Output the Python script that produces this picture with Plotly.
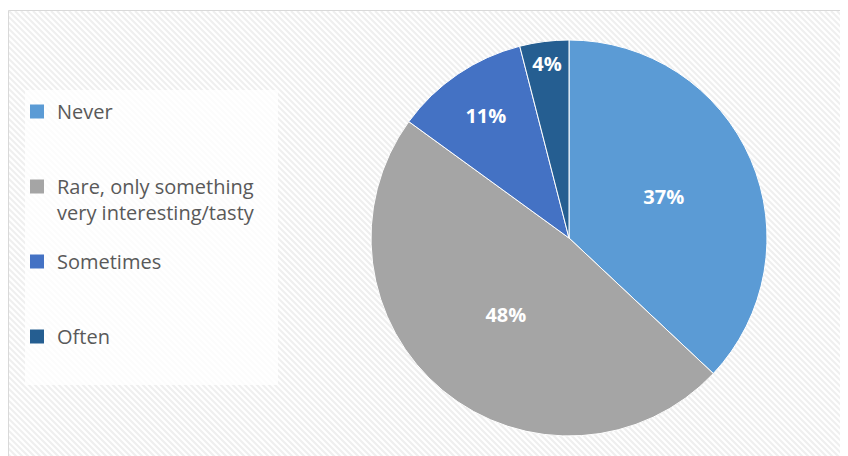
import base64
import plotly.graph_objects as go

labels = ["Never", "Rare, only something<br>very interesting/tasty", "Sometimes", "Often"]
values = [37, 48, 11, 4]
colors = ["#5B9BD5", "#A5A5A5", "#4472C4", "#255E91"]

# page is offset by the 8px body margin; figure sized to the visible area
W, H = 840, 448

bw, bh = 850, 450
lines = []
for k in range(-bh, bw + bh, 6):
    lines.append(f'<line x1="{k}" y1="0" x2="{k + bh}" y2="{bh}" stroke="#efefef" stroke-width="2.2"/>')
svg = (f'<svg xmlns="http://www.w3.org/2000/svg" width="{bw}" height="{bh}" viewBox="0 0 {bw} {bh}">'
       f'<rect width="{bw}" height="{bh}" fill="#ffffff"/>' + "".join(lines) + "</svg>")
src = "data:image/svg+xml;base64," + base64.b64encode(svg.encode()).decode()

cx, cy, r = 561, 230, 198

fig = go.Figure()
fig.add_trace(go.Pie(
    labels=labels, values=values, sort=False, direction="clockwise", rotation=0,
    marker=dict(colors=colors, line=dict(color="white", width=1)),
    texttemplate="%{percent:.0%}", textposition="inside", insidetextorientation="horizontal",
    textfont=dict(color="white", size=20, family="Open Sans", weight="bold"),
    showlegend=False, hoverinfo="label+percent",
    domain=dict(x=[(cx - r) / W, (cx + r) / W], y=[(H - cy - r) / H, (H - cy + r) / H]),
))
for lab, col in zip(labels, colors):
    name = lab if "<br>" in lab else lab + "<br> "
    fig.add_trace(go.Scatter(x=[None], y=[None], mode="markers", name=name, legendgroup=lab,
                             marker=dict(symbol="square", size=14, color=col)))

fig.update_layout(
    width=W, height=H, margin=dict(l=0, r=0, t=0, b=0),
    paper_bgcolor="white", plot_bgcolor="rgba(0,0,0,0)",
    xaxis=dict(visible=False), yaxis=dict(visible=False),
    legend=dict(x=9 / W, y=(H - 84) / H, xanchor="left", yanchor="top",
                bgcolor="rgba(0,0,0,0)", tracegroupgap=20, valign="top",
                font=dict(family="Open Sans", size=20, color="#595959")),
    images=[dict(source=src, xref="paper", yref="paper", x=1 / W, y=(H - 3) / H,
                 sizex=bw / W, sizey=bh / H, xanchor="left", yanchor="top",
                 sizing="stretch", layer="below")],
    shapes=[
        dict(type="rect", xref="paper", yref="paper", x0=17 / W, x1=270 / W, y0=(H - 377) / H, y1=(H - 82) / H,
             fillcolor="rgba(255,255,255,0.8)", line=dict(width=0), layer="below"),
        dict(type="rect", xref="paper", yref="paper", x0=0.5 / W, x1=1.02, y0=-0.02, y1=(H - 2.5) / H,
             line=dict(color="#d9d9d9", width=1), fillcolor="rgba(0,0,0,0)", layer="below"),
    ],
)
fig.write_html("out.html")
